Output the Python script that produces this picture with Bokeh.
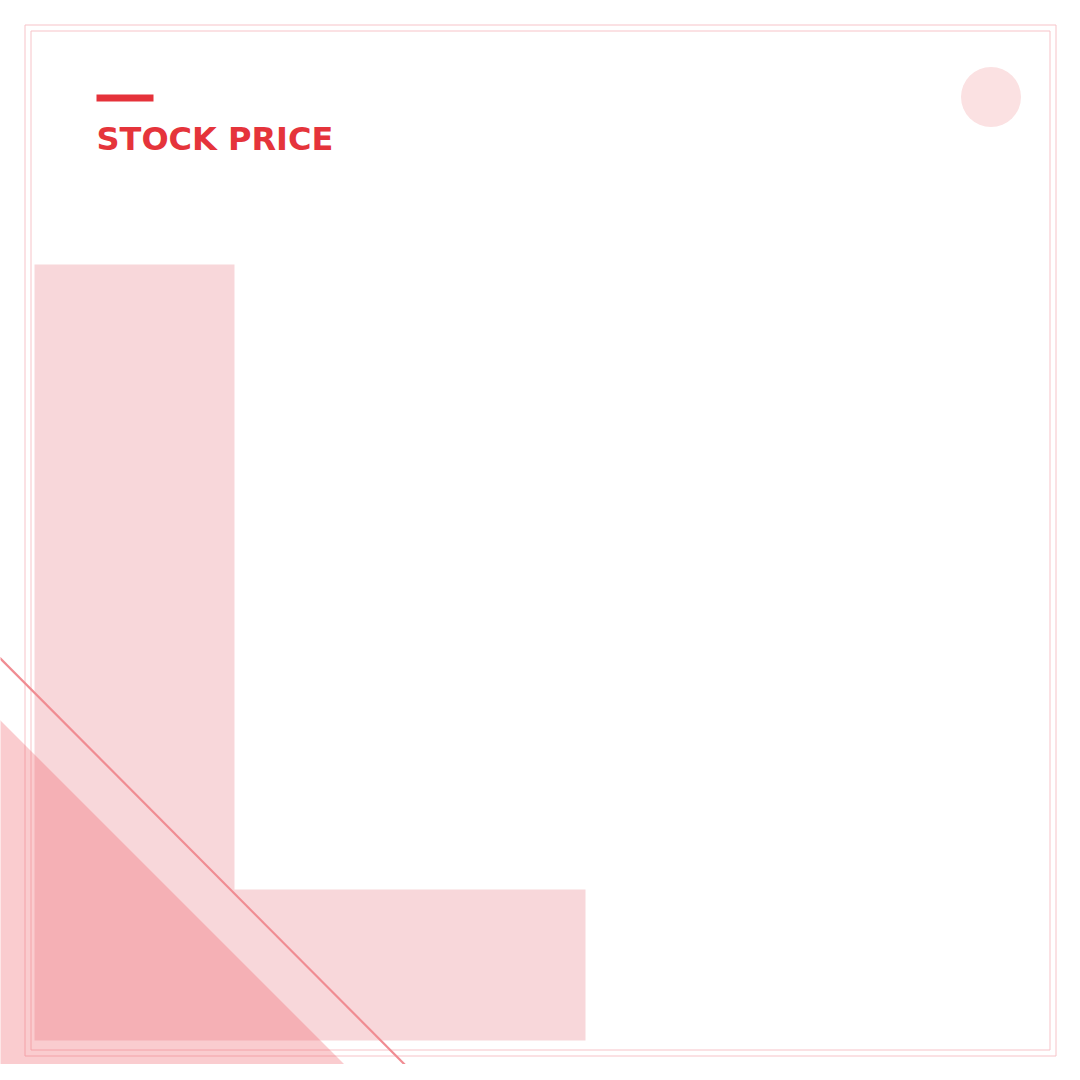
from bokeh.plotting import figure
from bokeh.models import Range1d
from bokeh.core.properties import value
from bokeh.embed import file_html
from bokeh.resources import INLINE

# Chart content (no data series in the reference; only title + decorative shapes)
title_text = ["STOCK PRICE"]

# decorative shapes, in reference pixel coordinates
border_outer = [24.5, 1055.5, 24.5, 1055.5]   # left, right, top, bottom
border_inner = [30.5, 1049.5, 30.5, 1049.5]
block_left = [34, 234, 264, 1040]
block_bottom = [234, 585, 889, 1040]
accent_bar = [96, 153, 94, 101]
circle_center = [990.5, 96.5]
circle_radius = [30]
triangle_xs = [-20, 380, -20]
triangle_ys = [700, 1100, 1100]
diag_xs = [-20, 440]
diag_ys = [638, 1100]

OFF = 0
W = 1064
p = figure(width=W, height=W, output_backend="svg", toolbar_location=None,
           x_range=Range1d(OFF, OFF + W), y_range=Range1d(OFF + W, OFF),
           min_border=0)
p.axis.visible = False
p.grid.visible = False
p.outline_line_color = None
p.background_fill_color = "white"
p.border_fill_color = "white"

# pink L-shaped block (single patch, no seam)
l_xs = [block_left[0], block_left[1], block_left[1], block_bottom[1], block_bottom[1], block_left[0]]
l_ys = [block_left[2], block_left[2], block_bottom[2], block_bottom[2], block_bottom[3], block_left[3]]
p.patch(l_xs, l_ys, fill_color="#f8d7da", line_color=None)

# double border
for b in (border_outer, border_inner):
    p.quad(left=[b[0]], right=[b[1]], top=[b[2]], bottom=[b[3]],
           fill_alpha=0, line_color="#f7c3c8", line_width=1)

# circle top-right
p.circle(x=[circle_center[0]], y=[circle_center[1]], radius=circle_radius[0],
         fill_color="#fbe1e2", line_color=None)

# triangle bottom-left
p.patch(triangle_xs, triangle_ys, fill_color="#ee5560", fill_alpha=0.3, line_color=None)

# diagonal line
p.line(diag_xs, diag_ys, line_color="#f08c92", line_width=2.2)

# accent bar above title
p.quad(left=[accent_bar[0]], right=[accent_bar[1]], top=[accent_bar[2]], bottom=[accent_bar[3]],
       fill_color="#e5323a", line_color=None)

# title
p.text(x=[96], y=[138], text=title_text, text_font=value("DejaVu Sans"),
       text_font_style="bold", text_font_size="32px", text_color="#e5343b",
       text_baseline="alphabetic", text_align="left")

open("out.html", "w").write(file_html(p, INLINE))
